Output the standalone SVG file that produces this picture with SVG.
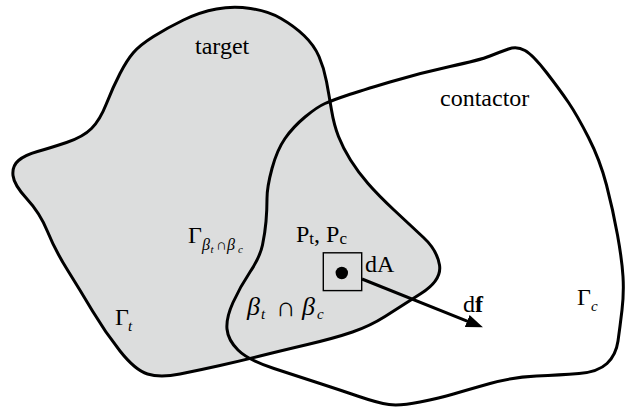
<svg xmlns="http://www.w3.org/2000/svg" width="627" height="412" viewBox="0 0 627 412">
<style>
text{font-family:'Liberation Serif','Times New Roman','DejaVu Serif',serif;fill:#000}
.i{font-style:italic}
.b{stroke:#000;stroke-width:3;stroke-linejoin:round}
</style>
<defs>
<marker id="ah" markerWidth="17" markerHeight="13" refX="2" refY="6.5" orient="auto" markerUnits="userSpaceOnUse">
<path d="M0,0 L17,6.5 L0,13 z" fill="#000"/>
</marker>
</defs>
<rect width="627" height="412" fill="#fff"/>
<g id="target">
<path class="b" fill="#dcdddd" d="M 66.5,142.5 Q 83,137 91.5,128.5 Q 100,120 106.5,103.5 Q 113,87 120,73.5 Q 127,60 133.5,52.5 Q 140,45 153.5,36.5 Q 167,28 183.5,20 Q 200,12 216.5,9 Q 233,6 250.5,8.5 Q 268,11 281,18.5 Q 294,26 304,35.5 Q 314,45 319,56.5 Q 324,68 326.5,81.5 Q 329,95 331.5,110 Q 334,125 338.5,136.5 Q 343,148 350.5,160 Q 358,172 368,183.5 Q 378,195 394,210 Q 410,225 423.5,237.5 Q 437,250 439.5,265 Q 442,280 421,293.5 Q 400,307 385,316.5 Q 370,326 352.5,332 Q 335,338 307.5,344.5 Q 280,351 260,356 Q 240,361 220,365.5 Q 200,370 180,374 Q 160,378 147.5,374 Q 135,370 120,351 Q 105,332 92.5,311 Q 80,290 67.5,270 Q 55,250 47.5,231.5 Q 40,213 27,199 Q 14,185 13,175.5 Q 12,166 18.5,160.5 Q 25,155 37.5,151.5 Q 50,148 66.5,142.5 Z"/>
<text x="195" y="54" font-size="24">target</text>
<text x="115" y="325" font-size="24">Γ<tspan class="i" x="128" y="331" font-size="15">t</tspan></text>
<text x="188" y="243" font-size="24">Γ<tspan class="i" x="202" y="250" font-size="16">β</tspan><tspan class="i" x="210.5" y="253" font-size="11">t</tspan><tspan x="216" y="250" font-size="15">∩</tspan><tspan class="i" x="227" y="250" font-size="16">β</tspan><tspan class="i" x="238" y="253" font-size="11">c</tspan></text>
</g>
<g id="contactor">
<path class="b" fill="none" d="M 325,103.5 Q 333,100 346.5,95.5 Q 360,91 390,82 Q 420,73 450,66.5 Q 480,60 490,56 Q 500,52 508.5,49 Q 517,46 525,50.5 Q 533,55 546.5,72.5 Q 560,90 568.5,102.5 Q 577,115 588.5,137.5 Q 600,160 606.5,185 Q 613,210 617.5,235 Q 622,260 623,276.5 Q 624,293 622,310 Q 620,327 618,341 Q 616,355 607,363.5 Q 598,372 579,373.5 Q 560,375 536.5,376 Q 513,377 490,383.5 Q 467,390 453.5,394 Q 440,398 420,402 Q 400,406 389,404.5 Q 378,403 359,396.5 Q 340,390 320,383.5 Q 300,377 274,368.5 Q 248,360 238,350 Q 228,340 227,329 Q 226,318 233,302.5 Q 240,287 250,272 Q 260,257 262.5,245 Q 265,233 266,221.5 Q 267,210 267,198.5 Q 267,187 272,168.5 Q 277,150 285,138.5 Q 293,127 305,117 Q 317,107 325,103.5 Z"/>
<text x="440" y="106" font-size="24">contactor</text>
<text x="577" y="305" font-size="24">Γ<tspan class="i" x="591" y="311" font-size="15">c</tspan></text>
</g>
<g id="overlap">
<text x="296" y="242" font-size="24">P<tspan dy="2" font-size="17">t</tspan><tspan dy="-2">, P</tspan><tspan dy="2" font-size="17">c</tspan></text>
<text font-size="26"><tspan class="i" x="247" y="315">β</tspan><tspan class="i" x="261" y="319" font-size="15">t</tspan><tspan x="276" y="316" font-size="27">∩</tspan><tspan class="i" x="302" y="315">β</tspan><tspan class="i" x="317" y="319" font-size="15">c</tspan></text>
</g>
<g id="dA">
<rect x="323.3" y="252.8" width="38.4" height="37.8" fill="none" stroke="#000" stroke-width="1.4"/>
<circle cx="341.8" cy="273" r="6.2" fill="#000"/>
<text x="365" y="272" font-size="24">dA</text>
</g>
<g id="connectors">
<line x1="362" y1="279" x2="469" y2="321.8" stroke="#000" stroke-width="3" marker-end="url(#ah)"/>
</g>
<g id="df">
<text x="463" y="312" font-size="24">d<tspan font-weight="bold">f</tspan></text>
</g>
</svg>
